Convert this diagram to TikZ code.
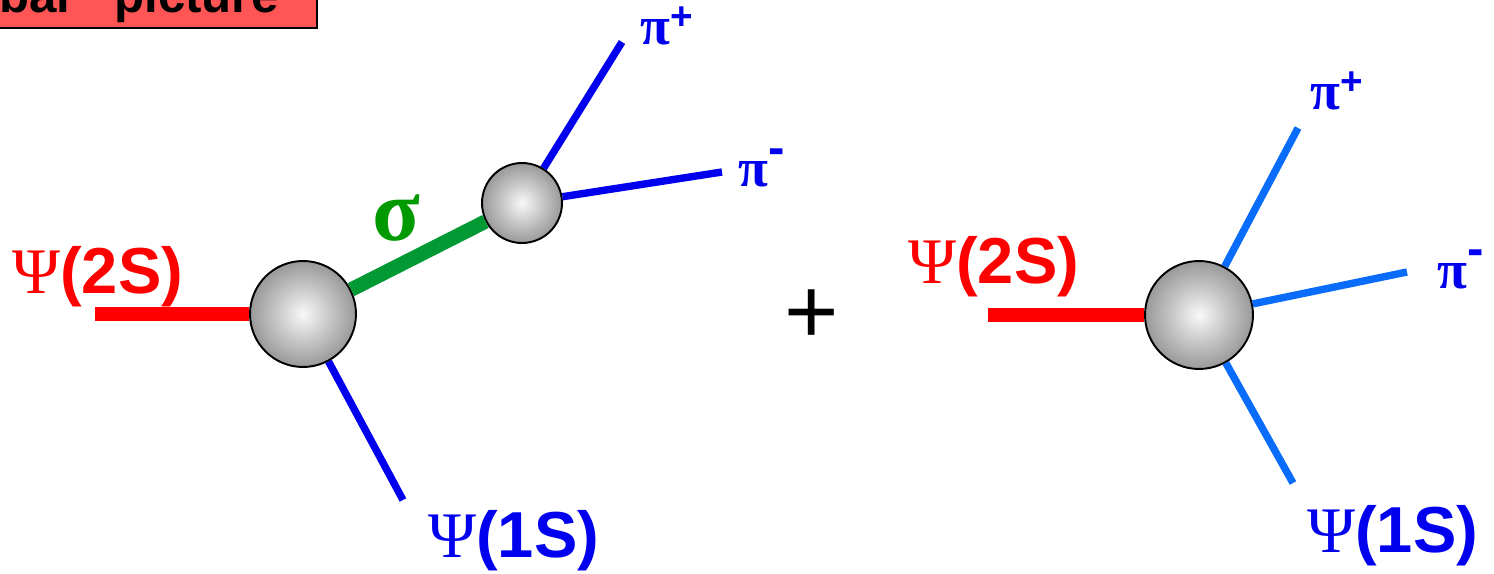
\documentclass[tikz,border=0pt]{standalone}
\usepackage{fontspec}
\setmainfont{Liberation Sans}
\newfontfamily\greekfont{Liberation Serif}

\definecolor{psired}{HTML}{FF0000}
\definecolor{pionblue}{HTML}{0000EE}
\definecolor{pionlight}{HTML}{0A6CFA}
\definecolor{sigmagreen}{HTML}{009933}
\definecolor{sigmatext}{HTML}{009900}
\definecolor{titlered}{HTML}{FF5555}

\pgfdeclareradialshading{sphere}{\pgfpoint{0bp}{0bp}}%
  {color(0bp)=(gray!5); color(12bp)=(gray!42); color(25bp)=(gray!80); color(50bp)=(gray!80)}

\newcommand\psilbl[1]{{\greekfont\mdseries Ψ}(#1)}
\newcommand\pipls{{\fontsize{31}{31}\selectfont\greekfont π}\raisebox{9pt}{\fontsize{22}{22}\selectfont +}}
\newcommand\pimin{{\fontsize{31}{31}\selectfont\greekfont π}\raisebox{13pt}{\fontsize{28}{28}\selectfont -}}

\begin{document}
\begin{tikzpicture}[x=0.02cm, y=-0.02cm,
    blob/.style={circle, draw=black, line width=1.1pt, shading=sphere, inner sep=0pt},
    thick line/.style={line width=8.2pt},
    pion line/.style={line width=4.2pt},
    lbl/.style={inner sep=0pt, anchor=base west, font=\fontsize{37}{44}\selectfont\bfseries},
]
\clip (0,0) rectangle (1494,574);

% title box, cut by the page edge
\node[draw=black, line width=1pt, fill=titlered, anchor=south east,
      inner xsep=22pt, inner ysep=3pt, font=\fontsize{28}{34}\selectfont\bfseries]
    (title) at (318,29) {Global\hspace{0.9em}picture};

% left: Psi(2S) -> Psi(1S) sigma, sigma -> pi pi
\node[blob, minimum size=2.12cm] (v1) at (303,314) {};
\node[blob, minimum size=1.6cm] (v2) at (522,203) {};
\coordinate (in1) at (95,314);
\coordinate (jpsi1) at (403,500);
\coordinate (pip1) at (622,42);
\coordinate (pim1) at (722,172);

\draw[thick line, psired] (in1) -- (v1);
\draw[thick line, sigmagreen] (v1) -- (v2);
\draw[pion line, pionblue] (v1) -- (jpsi1);
\draw[pion line, pionblue] (v2) -- (pip1);
\draw[pion line, pionblue] (v2) -- (pim1);

\node[lbl, psired] (l2s1) at (12,294) {\psilbl{2S}};
\node[lbl, sigmatext, font=\fontsize{50}{50}\selectfont\bfseries] (lsig) at (372,240) {\greekfont σ};
\node[lbl, pionblue] (l1s1) at (428,557) {\psilbl{1S}};
\node[lbl, pionblue] (lpip1) at (640,45) {\pipls};
\node[lbl, pionblue] (lpim1) at (738,187) {\pimin};

\node[font=\fontsize{53}{53}\selectfont] (plus) at (812,317) {+};

% right: direct Psi(2S) -> Psi(1S) pi pi
\node[blob, minimum size=2.16cm] (v3) at (1199,315) {};
\coordinate (in2) at (988,315);
\coordinate (pip2) at (1298,128);
\coordinate (pim2) at (1407,272);
\coordinate (jpsi2) at (1293,483);

\draw[thick line, psired] (in2) -- (v3);
\draw[pion line, pionlight] (v3) -- (pip2);
\draw[pion line, pionlight] (v3) -- (pim2);
\draw[pion line, pionlight] (v3) -- (jpsi2);

\node[lbl, psired] (l2s2) at (908,283) {\psilbl{2S}};
\node[lbl, pionblue] (lpip2) at (1310,110) {\pipls};
\node[lbl, pionblue] (lpim2) at (1437,288) {\pimin};
\node[lbl, pionblue] (l1s2) at (1307,552) {\psilbl{1S}};

\end{tikzpicture}
\end{document}
